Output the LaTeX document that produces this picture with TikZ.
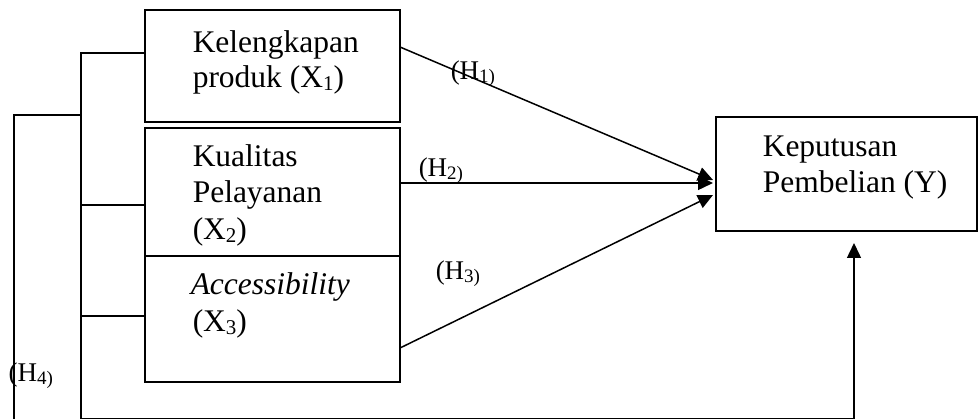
\documentclass[tikz,border=0pt]{standalone}
\usepackage{fontspec}
\setmainfont{Liberation Serif}
\usetikzlibrary{arrows.meta}
\newcommand\bsub[1]{\raisebox{-3pt}{\fontsize{21}{21}\selectfont #1}}
\newcommand\hsub[1]{\raisebox{-3pt}{\fontsize{19}{19}\selectfont #1}}
\tikzset{
  varbox/.style={draw, line width=1.5pt, inner sep=0pt, outer sep=0pt},
  txt/.style={anchor=base west, inner sep=0pt, font=\fontsize{31.5}{36.5}\selectfont},
  lbl/.style={anchor=base west, inner sep=0pt, font=\fontsize{27}{27}\selectfont},
  arr/.style={-{Triangle[length=15pt,width=14pt]}},
}
\begin{document}
\begin{tikzpicture}[x=1pt, y=-1pt, line width=1.5pt]
\useasboundingbox (0,0) rectangle (980,419);
% boxes
\node[varbox, minimum width=255pt, minimum height=112pt] (x1) at (272.5,66) {};
\node[varbox, minimum width=255pt, minimum height=128pt] (x2) at (272.5,192) {};
\node[varbox, minimum width=255pt, minimum height=126pt] (x3) at (272.5,319) {};
\node[varbox, minimum width=261pt, minimum height=114pt] (y) at (846.5,174) {};
% texts
\node[txt] (t1a) at (192,53) {Kelengkapan};
\node[txt] (t1b) at (192,88) {produk (X\bsub{1})};
\node[txt] (t2a) at (192,167) {Kualitas};
\node[txt] (t2b) at (192,203) {Pelayanan};
\node[txt] (t2c) at (192,240) {(X\bsub{2})};
\node[txt] (t3a) at (190,295) {\textit{Accessibility}};
\node[txt] (t3b) at (192,332) {(X\bsub{3})};
\node[txt] (tya) at (762,157) {Keputusan};
\node[txt] (tyb) at (762,193) {Pembelian (Y)};
% hypothesis labels
\node[lbl] (h1) at (450,80) {(H\hsub{1)}};
\node[lbl] (h2) at (418,177) {(H\hsub{2)}};
\node[lbl] (h3) at (435,280) {(H\hsub{3)}};
\node[lbl] (h4) at (8,382) {(H\hsub{4)}};
% coordinates
\coordinate (ib) at (81,418.5);
\coordinate (jn) at (81,115);
\coordinate (ob) at (14,421);
% arrows to Y
\draw[arr] ([yshift=19pt]x1.east) -- ([xshift=-3pt,yshift=-6pt]y.west);
\draw[arr] ([yshift=9pt]x2.east) -- ([xshift=-3pt,yshift=-9pt]y.west);
\draw[arr] ([yshift=-29pt]x3.east) -- ([xshift=-3pt,yshift=-21pt]y.west);
% simultaneous path
\draw[arr] ([yshift=13pt]x1.west) -| (ib) -| ([xshift=7.5pt,yshift=-12pt]y.south);
\draw ([yshift=-13pt]x2.west) -| (ib);
\draw ([yshift=3pt]x3.west) -| (ib);
\draw (ob) |- (jn);
\end{tikzpicture}
\end{document}
